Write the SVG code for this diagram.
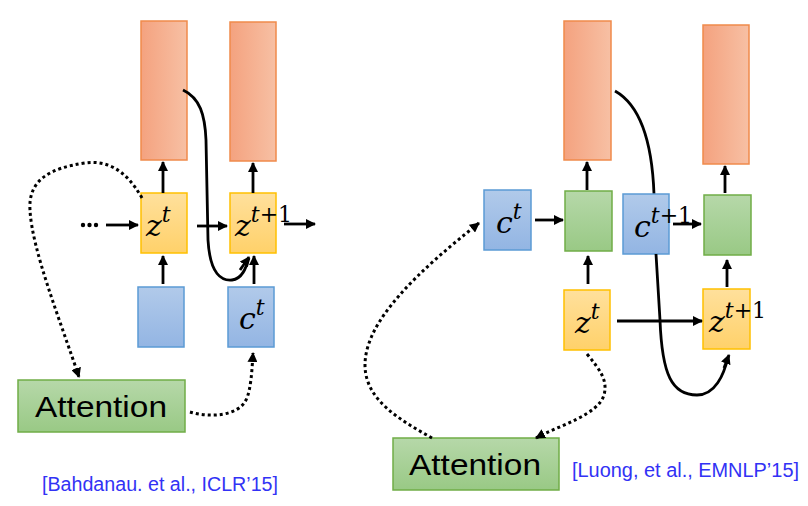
<svg xmlns="http://www.w3.org/2000/svg" width="808" height="506" viewBox="0 0 808 506">
<defs>
<linearGradient id="gO" x1="0" y1="0" x2="1" y2="0"><stop offset="0" stop-color="#F4A27F"/><stop offset="1" stop-color="#F7C0A4"/></linearGradient>
<linearGradient id="gY" x1="0" y1="0" x2="0" y2="1"><stop offset="0" stop-color="#FFE09C"/><stop offset="1" stop-color="#FFD16A"/></linearGradient>
<linearGradient id="gB" x1="0" y1="0" x2="0" y2="1"><stop offset="0" stop-color="#B1CAEA"/><stop offset="1" stop-color="#93B5E3"/></linearGradient>
<linearGradient id="gG" x1="0" y1="0" x2="0" y2="1"><stop offset="0" stop-color="#B6D8A9"/><stop offset="1" stop-color="#99C985"/></linearGradient>
<marker id="ah" markerWidth="10" markerHeight="10" viewBox="0 0 10 10" refX="9" refY="5" orient="auto" markerUnits="userSpaceOnUse"><path d="M0,0 L10,5 L0,10 z" fill="#000"/></marker>
</defs>
<style>
.o{fill:url(#gO);stroke:#F08A4B;stroke-width:1.5}
.y{fill:url(#gY);stroke:#FFC000;stroke-width:1.5}
.b{fill:url(#gB);stroke:#5B9BD5;stroke-width:1.5}
.g{fill:url(#gG);stroke:#70AD47;stroke-width:1.5}
.a{stroke:#000;stroke-width:2.8;fill:none;marker-end:url(#ah)}
.c{stroke:#000;stroke-width:2.8;fill:none}
.d{stroke:#000;stroke-width:3;fill:none;stroke-dasharray:3 3;marker-end:url(#ah)}
.m{font-family:"DejaVu Serif",serif;font-style:italic;font-size:30px;fill:#000}
.s{font-size:22px}
.u{font-style:normal}
.at{font-family:"Liberation Sans",Arial,sans-serif;font-size:29px;fill:#000}
.ci{font-family:"Liberation Sans",Arial,sans-serif;font-size:20px;fill:#3232F5}
</style>
<g id="left-out1"><rect class="o" x="141" y="21" width="46" height="139"/></g>
<g id="left-out2"><rect class="o" x="230" y="22" width="46" height="139"/></g>
<g id="left-zt"><rect class="y" x="141" y="193" width="46" height="60"/><text class="m" x="146" y="236">z<tspan class="s" dy="-14">t</tspan></text></g>
<g id="left-zt1"><rect class="y" x="230" y="193" width="46" height="60"/><text class="m" x="235" y="236">z<tspan class="s" dy="-14">t<tspan class="u">+1</tspan></tspan></text></g>
<g id="left-in1"><rect class="b" x="138" y="287" width="46" height="60"/></g>
<g id="left-ct"><rect class="b" x="228" y="287" width="46" height="60"/><text class="m" x="239" y="329">c<tspan class="s" dy="-14">t</tspan></text></g>
<g id="left-attention"><rect class="g" x="18" y="380" width="167" height="52"/><text class="at" x="35" y="417" textLength="132" lengthAdjust="spacingAndGlyphs">Attention</text></g>
<g id="left-dots"><circle cx="83" cy="225" r="2.2"/><circle cx="89.5" cy="225" r="2.2"/><circle cx="96" cy="225" r="2.2"/></g>

<g id="right-out1"><rect class="o" x="564" y="21" width="47" height="139"/></g>
<g id="right-out2"><rect class="o" x="703" y="25" width="46" height="139"/></g>
<g id="right-ct"><rect class="b" x="484" y="190" width="47" height="60"/><text class="m" x="496" y="233">c<tspan class="s" dy="-14">t</tspan></text></g>
<g id="right-h1"><rect class="g" x="565" y="191" width="47" height="60"/></g>
<g id="right-h2"><rect class="g" x="704" y="195" width="47" height="60"/></g>
<g id="right-zt"><rect class="y" x="564" y="290" width="46" height="60"/><text class="m" x="575" y="333">z<tspan class="s" dy="-14">t</tspan></text></g>
<g id="right-zt1"><rect class="y" x="703" y="289" width="47" height="60"/><text class="m" x="709" y="332">z<tspan class="s" dy="-14">t<tspan class="u">+1</tspan></tspan></text></g>
<g id="right-attention"><rect class="g" x="393" y="438" width="166" height="52"/><text class="at" x="409" y="475" textLength="132" lengthAdjust="spacingAndGlyphs">Attention</text></g>

<g id="connectors">
<path class="a" d="M163,193 V162"/>
<path class="a" d="M253,193 V163"/>
<path class="a" d="M106,225 H138"/>
<path class="c" d="M183,90 C200,98 205,115 206,140 L208,240 C210,275 222,281 232,280 C242,279 246,268 249,258"/>
<path class="a" d="M240,270 L249,257"/>
<path class="a" d="M197,226 H227"/>
<path class="a" d="M284,224 H315"/>
<path class="a" d="M163,284 V256"/>
<path class="a" d="M254,284 V256"/>
<path class="d" d="M142,198 C125,168 105,160 85,163 C50,168 28,180 30,210 C32,250 60,320 79,377"/>
<path class="d" d="M190,412 C210,418 238,416 246,400 C251,390 252,370 253,353"/>

<path class="a" d="M535,220 H563"/>
<path class="a" d="M587,190 V162"/>
<path class="a" d="M725,193 V166"/>
<path class="c" d="M615,91 C640,105 652,140 654,194"/>
<g id="right-ct1"><rect class="b" x="623" y="194" width="46" height="60"/><text class="m" x="634" y="237">c<tspan class="s" dy="-14">t<tspan class="u">+1</tspan></tspan></text></g>
<path class="a" d="M673,224 H701"/>
<path class="a" d="M588,284 V256"/>
<path class="a" d="M727,287 V260"/>
<path class="a" d="M617,321 H702"/>
<path class="c" d="M656,254 L660,320 C662,375 672,395 697,395 C715,395 724,375 728,357"/>
<path class="a" d="M724,368 L729,355"/>
<path class="d" d="M432,438 C400,420 365,400 365,365 C365,320 420,270 479,223"/>
<path class="d" d="M587,354 C600,370 608,380 604,395 C598,415 560,425 536,438"/>
</g>
<text class="ci" x="42" y="491" textLength="236" lengthAdjust="spacingAndGlyphs">[Bahdanau. et al., ICLR’15]</text>
<text class="ci" x="572" y="477" textLength="227" lengthAdjust="spacingAndGlyphs">[Luong, et al., EMNLP’15]</text>
</svg>
